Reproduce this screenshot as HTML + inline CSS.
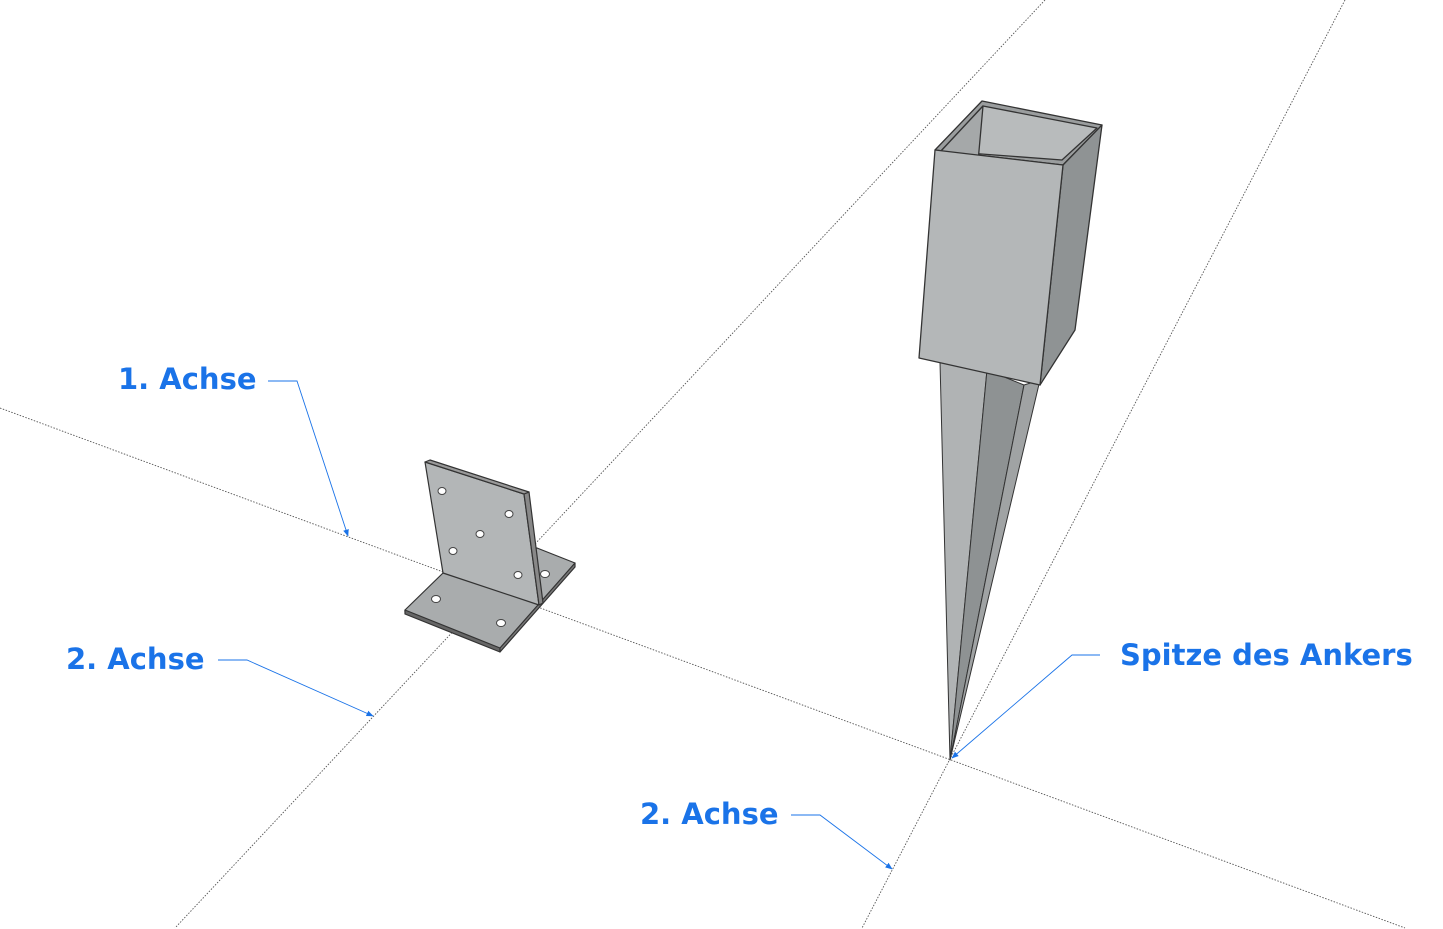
<!DOCTYPE html>
<html><head><meta charset="utf-8"><style>
html,body{margin:0;padding:0;background:#fff}
svg{display:block}
text{font-family:"DejaVu Sans","Liberation Sans",sans-serif;font-weight:bold;fill:#1a73e8;font-size:29px}
</style></head><body>
<svg width="1443" height="929" viewBox="0 0 1443 929">
<defs>
<marker id="ar" viewBox="0 0 10 10" refX="9" refY="5" markerWidth="8" markerHeight="8" orient="auto"><path d="M0,1 L10,5 L0,9 z" fill="#1a73e8"/></marker>
</defs>
<g stroke="#555" stroke-width="0.9" stroke-dasharray="1.5,1.5" fill="none">
<line x1="0" y1="408" x2="1405" y2="928"/>
<line x1="1045" y1="0" x2="175" y2="928"/>
<line x1="1345" y1="0" x2="862" y2="928"/>
</g>
<!-- bracket -->
<g stroke="#333" stroke-width="1.2" stroke-linejoin="round">
<polygon points="405,610 443,573 537,548 575,563 500,651 405,612" fill="#a9acad"/>
<polygon points="405,610 500,648 500,652 405,614" fill="#666"/>
<polygon points="500,648 575,563 575,567 500,652" fill="#777"/>
<polygon points="425,462 524,494 539,605 443,573" fill="#b3b6b7"/>
<polygon points="524,494 529,492 543,603 539,605" fill="#888"/>
<polygon points="425,462 430,460 529,492 524,494" fill="#999"/>
</g>
<g fill="#fff" stroke="#444" stroke-width="1">
<ellipse cx="442" cy="491" rx="4" ry="3.5"/><ellipse cx="509" cy="514" rx="4" ry="3.5"/>
<ellipse cx="480" cy="534" rx="4" ry="3.5"/><ellipse cx="453" cy="551" rx="4" ry="3.5"/>
<ellipse cx="518" cy="575" rx="4" ry="3.5"/><ellipse cx="545" cy="574" rx="4.5" ry="3.5"/>
<ellipse cx="436" cy="599" rx="4.5" ry="3.5"/><ellipse cx="501" cy="623" rx="4.5" ry="3.5"/>
</g>
<!-- anchor spike -->
<g stroke="#333" stroke-width="1" stroke-linejoin="round">
<polygon points="940,362 987,370 950,760" fill="#b0b3b4"/>
<polygon points="987,370 1024,385 950,760" fill="#8e9293"/>
<polygon points="1024,385 1040,380 950,760" fill="#a0a3a4"/>
</g>
<!-- anchor box -->
<g stroke="#333" stroke-width="1.3" stroke-linejoin="round">
<polygon points="935,150 982,101 1102,125 1063,165" fill="#9a9d9e"/>
<polygon points="941,151 983,106 1097,128 1062,160" fill="#b8bbbc"/>
<polygon points="941,151 983,106 978,162" fill="#a5a8a9"/>
<polygon points="1063,165 1102,125 1075,330 1040,385" fill="#8f9394"/>
<polygon points="935,150 1063,165 1040,385 919,358" fill="#b4b7b8"/>
</g>
<!-- leaders -->
<g stroke="#1a73e8" stroke-width="0.9" fill="none" marker-end="url(#ar)">
<polyline points="268,381 297,381 348,536"/>
<polyline points="218,660 247,660 373,716"/>
<polyline points="791,815 820,815 892,869"/>
<polyline points="1100,655 1072,655 952,758"/>
</g>
<text x="118" y="389">1. Achse</text>
<text x="66" y="669">2. Achse</text>
<text x="640" y="824">2. Achse</text>
<text x="1120" y="665">Spitze des Ankers</text>
</svg>
</body></html>
